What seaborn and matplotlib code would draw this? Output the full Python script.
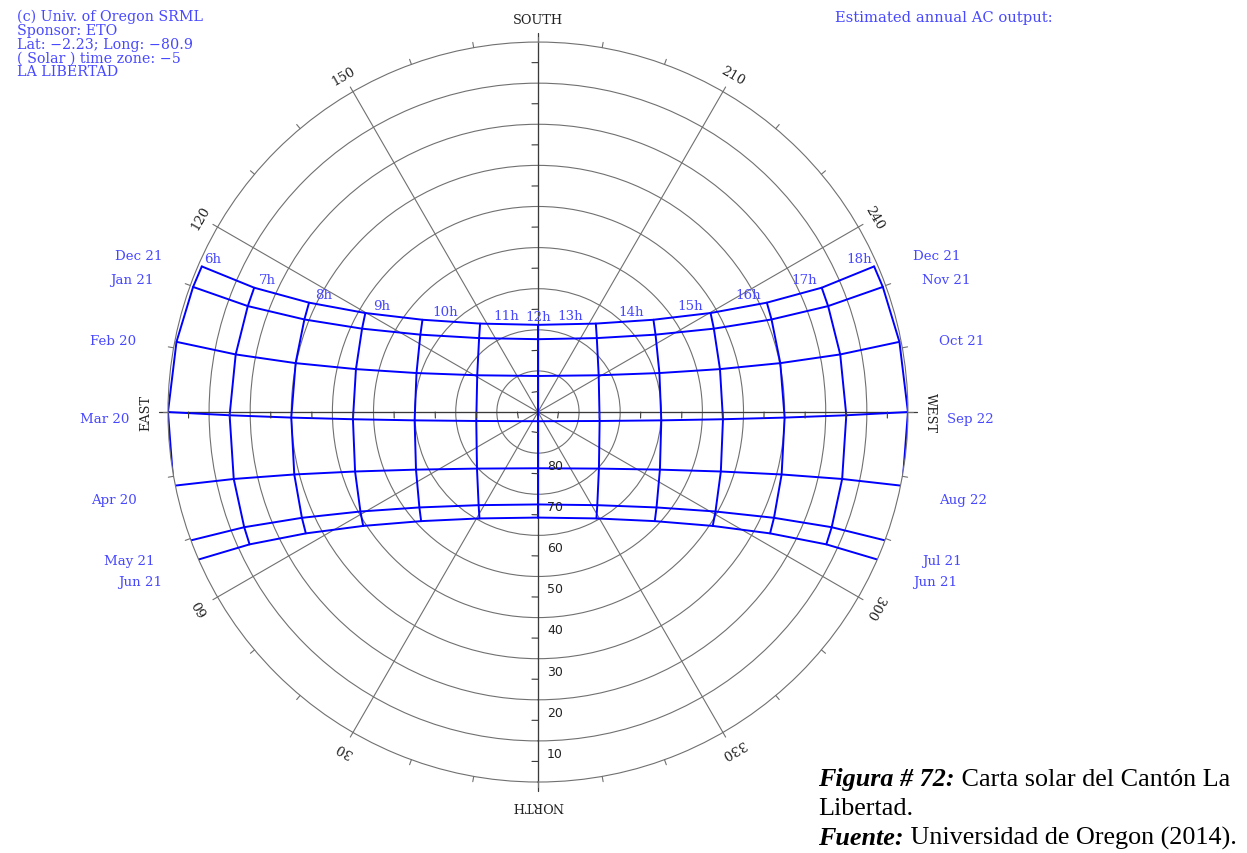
import numpy as np
import pandas as pd
import seaborn as sns
import matplotlib.pyplot as plt

# solar hours and sun-path dates (Lat -2.23, solar time)
hours = [6, 7, 8, 9, 10, 11, 12, 13, 14, 15, 16, 17, 18]
left_dates = ['Dec 21', 'Jan 21', 'Feb 20', 'Mar 20', 'Apr 20', 'May 21', 'Jun 21']
right_dates = ['Dec 21', 'Nov 21', 'Oct 21', 'Sep 22', 'Aug 22', 'Jul 21', 'Jun 21']

# sun altitude (deg) at each hour
alt_dec = [0.89, 14.64, 28.29, 41.59, 54.04, 64.29, 68.79, 64.29, 54.04, 41.59, 28.29, 14.64, 0.89]
alt_jan = [0.76, 14.86, 28.88, 42.65, 55.76, 67.01, 72.28, 67.01, 55.76, 42.65, 28.88, 14.86, 0.76]
alt_feb = [0.43, 15.15, 29.86, 44.51, 58.97, 72.73, 81.23, 72.73, 58.97, 44.51, 29.86, 15.15, 0.43]
alt_mar = [0.00, 14.99, 29.98, 44.96, 59.93, 74.84, 87.77, 74.84, 59.93, 44.96, 29.98, 14.99, 0.00]
alt_apr = [-0.44, 14.23, 28.81, 43.22, 57.19, 69.77, 76.32, 69.77, 57.19, 43.22, 28.81, 14.23, -0.44]
alt_may = [-0.77, 13.25, 27.08, 40.50, 52.98, 63.14, 67.52, 63.14, 52.98, 40.50, 27.08, 13.25, -0.77]
alt_jun = [-0.89, 12.82, 26.29, 39.26, 51.12, 60.47, 64.33, 60.47, 51.12, 39.26, 26.29, 12.82, -0.89]

# sun azimuth (deg from north, through east) at each hour
az_dec = [113.42, 113.66, 115.54, 119.84, 128.63, 146.80, 180.0, 213.20, 231.37, 240.16, 244.46, 246.34, 246.58]
az_jan = [109.94, 110.06, 111.62, 115.36, 123.35, 141.48, 180.0, 218.52, 236.65, 244.64, 248.38, 249.94, 250.06]
az_feb = [100.99, 100.79, 101.41, 103.27, 107.80, 121.19, 180.0, 238.81, 252.20, 256.73, 258.59, 259.21, 259.01]
az_mar = [90.00, 89.40, 88.71, 87.77, 86.14, 81.74, 360.0, 278.26, 273.86, 272.23, 271.29, 270.60, 270.00]
az_apr = [78.56, 77.59, 75.63, 71.99, 64.72, 47.15, 360.0, 312.85, 295.28, 288.01, 284.37, 282.41, 281.44]
az_may = [69.76, 68.59, 65.86, 60.74, 51.18, 32.50, 360.0, 327.50, 308.82, 299.26, 294.14, 291.41, 290.24]
az_jun = [66.58, 65.35, 62.40, 56.91, 46.96, 28.80, 360.0, 331.20, 313.04, 303.09, 297.60, 294.65, 293.42]

alts = [alt_dec, alt_jan, alt_feb, alt_mar, alt_apr, alt_may, alt_jun]
azs = [az_dec, az_jan, az_feb, az_mar, az_apr, az_may, az_jun]

info_lines = ['(c) Univ. of Oregon SRML', 'Sponsor: ETO', 'Lat: \u22122.23; Long: \u221280.9',
              '( Solar ) time zone: \u22125', 'LA LIBERTAD']

rows = []
for d, (a_list, z_list) in enumerate(zip(alts, azs)):
    path_theta = np.unwrap(np.deg2rad(z_list))
    for h, a, z, t in zip(hours, a_list, z_list, path_theta):
        rows.append({'date': left_dates[d], 'hour': h, 'r': 90 - a,
                     'theta': np.deg2rad(z), 'theta_path': t})
df = pd.DataFrame(rows)

BLUE = '#0000ff'
TXT = '#4848ff'
GRID = '#707070'
DARK = '#3a3a3a'

sns.set_style('white')
plt.rcParams['font.family'] = ['DejaVu Serif']

fig = plt.figure(figsize=(12.47, 8.54), dpi=100)
ax = fig.add_axes([0.1347, 0.0831, 0.5934, 0.8665], projection='polar')
ax.set_theta_zero_location('S')
ax.set_theta_direction(-1)

# sun paths (one curve per date) and hour lines
sns.lineplot(data=df, x='theta_path', y='r', units='date', estimator=None, sort=False,
             color=BLUE, lw=1.4, ax=ax, legend=False)
sns.lineplot(data=df, x='theta', y='r', units='hour', estimator=None, sort=False,
             color=BLUE, lw=1.4, ax=ax, legend=False)

ax.set_rlim(0, 90)
ax.set_xlabel('')
ax.set_ylabel('')
ax.set_rticks(range(10, 90, 10))
ax.set_yticklabels([])
ax.set_thetagrids(range(0, 360, 30), labels=[''] * 12)
ax.grid(True, color=GRID, lw=0.8)
ax.spines['polar'].set_color(GRID)
ax.spines['polar'].set_linewidth(0.8)
ax.tick_params(length=0)

# cardinal axes, slightly extended past the horizon
for a in [0, 90, 180, 270]:
    ax.plot([np.deg2rad(a)] * 2, [0, 92.3], color=DARK, lw=0.9, clip_on=False, zorder=1)

# small ticks every 10 deg of azimuth on the horizon circle
for a in range(0, 360, 10):
    ax.plot([np.deg2rad(a)] * 2, [90, 91.3], color=GRID, lw=0.8, clip_on=False)

# half-decade altitude ticks along the cardinal axes
px_per_deg = 370 / 90
for a, side in [(180, -1), (0, 1), (90, -1), (270, 1)]:
    for r in range(5, 90, 10):
        d = side * 6 / (r * px_per_deg)
        ax.plot([np.deg2rad(a), np.deg2rad(a) + d], [r, r], color=DARK, lw=0.8)

# altitude labels along the north axis
for alt in range(10, 90, 10):
    ax.annotate(str(alt), xy=(0, 90 - alt + 3), xytext=(6.5, 0), textcoords='offset points',
                ha='left', va='center', fontsize=9, color='#222222', family='DejaVu Sans')

# azimuth labels
for a in [30, 60, 120, 150, 210, 240, 300, 330]:
    ax.text(np.deg2rad(a), 94.6, str(a), rotation=180 - a, rotation_mode='anchor',
            ha='center', va='center', fontsize=9.5, color='#222222', clip_on=False)
for a, name in [(180, 'SOUTH'), (0, 'NORTH'), (90, 'EAST'), (270, 'WEST')]:
    ax.text(np.deg2rad(a), 95.5, name, rotation=180 - a, rotation_mode='anchor',
            ha='center', va='center', fontsize=9.3, color='#222222', clip_on=False)

# date labels at sunrise / sunset
for d in range(len(left_dates)):
    ax.text(np.deg2rad(azs[d][0]), 99.5, left_dates[d], ha='right', va='top',
            fontsize=9.6, color=TXT, clip_on=False)
    ax.text(np.deg2rad(azs[d][-1]), 99.5, right_dates[d], ha='left', va='top',
            fontsize=9.6, color=TXT, clip_on=False)

# hour labels along the Dec 21 path
hour_dx = [2, 5, 6, 8, 10, 13, 0, -13, -10, -8, -6, -5, -2]
for i, h in enumerate(hours):
    ha = 'left' if h < 12 else ('right' if h > 12 else 'center')
    ax.annotate(f'{h}h', xy=(np.deg2rad(az_dec[i]), 90 - alt_dec[i]),
                xytext=(hour_dx[i] * 0.72, 1), textcoords='offset points',
                ha=ha, va='bottom', fontsize=9.6, color=TXT)

# header texts
for i, line in enumerate(info_lines):
    fig.text(17 / 1247, 1 - (17 + 13.8 * i) / 854, line, ha='left', va='center',
             fontsize=10.3, color=TXT)
fig.text(835 / 1247, 1 - 18 / 854, 'Estimated annual AC output:', ha='left', va='center',
         fontsize=10.6, color=TXT)

# caption with mixed bold-italic / regular runs
renderer = fig.canvas.get_renderer()
caption = [[('Figura # 72:', True), (' Carta solar del Cant\u00f3n La', False)],
           [('Libertad.', False)],
           [('Fuente:', True), (' Universidad de Oregon (2014).', False)]]
baselines = [786, 815, 845]
for line, yb in zip(caption, baselines):
    x = 818
    for txt, bold in line:
        t = fig.text(x / 1247, 1 - yb / 854, txt, ha='left', va='baseline', fontsize=18.8,
                     family='Liberation Serif', color='black',
                     fontweight='bold' if bold else 'normal',
                     fontstyle='italic' if bold else 'normal')
        x += t.get_window_extent(renderer).width

fig.savefig('out.png', dpi=100)
